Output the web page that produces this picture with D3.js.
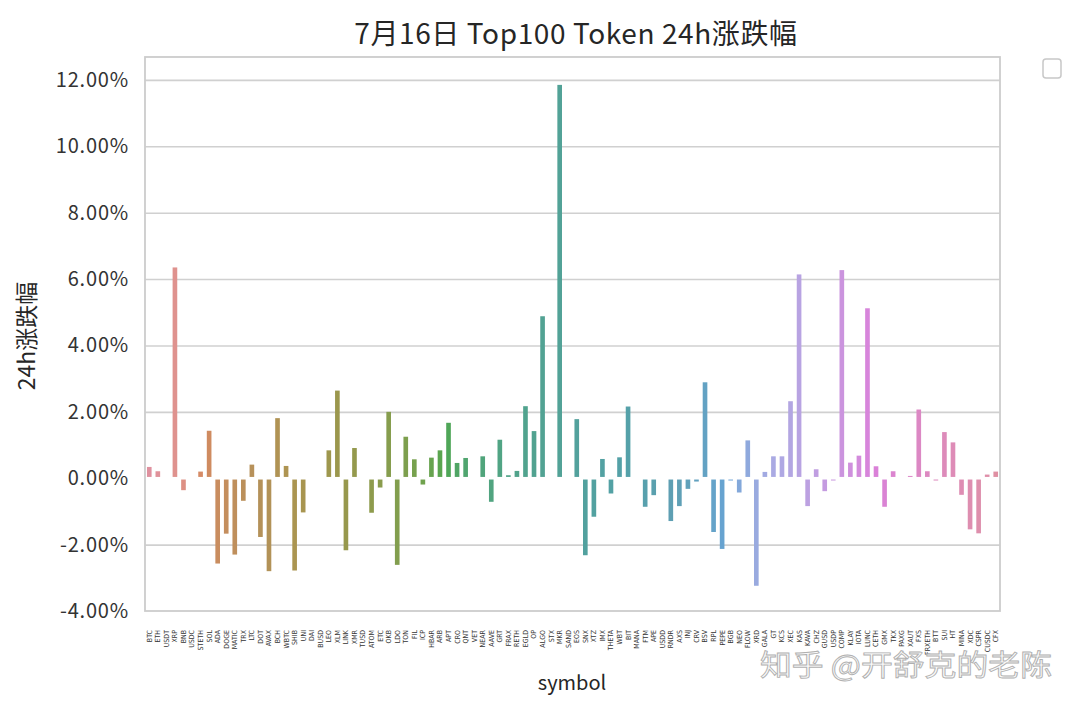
<!DOCTYPE html>
<html>
<head>
<meta charset="utf-8">
<script src="https://cdn.jsdelivr.net/npm/d3@7"></script>
<style>
  html, body { margin: 0; padding: 0; background: #ffffff; }
  svg { display: block; }
</style>
</head>
<body>
<svg id="chart" width="1080" height="710"></svg>
<script>
// ---------------- data ----------------
const symbols = [
  "BTC","ETH","USDT","XRP","BNB","USDC","STETH","SOL","ADA","DOGE",
  "MATIC","TRX","LTC","DOT","AVAX","BCH","WBTC","SHIB","UNI","DAI",
  "BUSD","LEO","XLM","LINK","XMR","TUSD","ATOM","ETC","OKB","LDO",
  "TON","FIL","ICP","HBAR","ARB","APT","CRO","QNT","VET","NEAR",
  "AAVE","GRT","FRAX","RETH","EGLD","OP","ALGO","STX","MKR","SAND",
  "EOS","SNX","XTZ","IMX","THETA","WBT","BIT","MANA","FTM","APE",
  "USDD","RNDR","AXS","INJ","CRV","BSV","RPL","PEPE","BGB","NEO",
  "FLOW","XRD","GALA","GT","KCS","XEC","KAS","KAVA","CHZ","GUSD",
  "USDP","COMP","KLAY","IOTA","LUNC","CETH","GMX","TKX","PAXG","XAUT",
  "FXS","FRXETH","BTT","SUI","HT","MINA","XDC","CSPR","CUSDC","CFX"
];
// 24h change in percent
const changes = [
   0.34,  0.21,  0.00,  6.35, -0.36,  0.00,  0.20,  1.43, -2.57, -1.67,
  -2.30, -0.68,  0.41, -1.77, -2.80,  1.81,  0.37, -2.78, -1.03,  0.00,
   0.00,  0.84,  2.64, -2.17,  0.91,  0.00, -1.04, -0.28,  2.00, -2.61,
   1.25,  0.57, -0.19,  0.62,  0.84,  1.67,  0.46,  0.61,  0.00,  0.66,
  -0.71,  1.16,  0.09,  0.22,  2.17,  1.42,  4.88,  0.00, 11.85,  0.00,
   1.78, -2.32, -1.16,  0.58, -0.46,  0.63,  2.16,  0.00, -0.86, -0.51,
   0.00, -1.29, -0.84, -0.32, -0.10,  2.89, -1.62, -2.13, -0.05, -0.43,
   1.14, -3.24,  0.19,  0.66,  0.66,  2.32,  6.14, -0.84,  0.27, -0.39,
  -0.05,  6.27,  0.47,  0.68,  5.12,  0.36, -0.86,  0.21,  0.00,  0.05,
   2.07,  0.21, -0.03,  1.39,  1.08, -0.50, -1.54, -1.66,  0.11,  0.20
];
const yTicks = [-4, -2, 0, 2, 4, 6, 8, 10, 12];
const titleText = "7月16日 Top100 Token 24h涨跌幅";
const xLabelText = "symbol";
const yLabelText = "24h涨跌幅";
const watermarkText = "知乎 @开舒克的老陈";

// ---------------- HUSL palette (seaborn husl_palette + desaturate) ----------------
const M = [[3.2406,-1.5372,-0.4986],[-0.9689,1.8758,0.0415],[0.0557,-0.2040,1.0570]];
const refU = 0.19784, refV = 0.46834, labE = 0.008856, labK = 903.3;
function maxChroma(L, H) {
  const hr = H * Math.PI / 180, sinH = Math.sin(hr), cosH = Math.cos(hr);
  const sub1 = Math.pow(L + 16, 3) / 1560896.0;
  const sub2 = sub1 > labE ? sub1 : L / labK;
  let result = Infinity;
  for (const [m1, m2, m3] of M) {
    const top = (0.99915 * m1 + 1.05122 * m2 + 1.14460 * m3) * sub2;
    const rb = 0.86330 * m3 - 0.17266 * m2;
    const lb = 0.12949 * m3 - 0.38848 * m1;
    const bottom = (rb * sinH + lb * cosH) * sub2;
    for (const t of [0, 1]) {
      const C = L * (top - 1.05122 * t) / (bottom + 0.17266 * sinH * t);
      if (C > 0 && C < result) result = C;
    }
  }
  return result;
}
function fInv(t) { return Math.pow(t, 3) > labE ? Math.pow(t, 3) : (116 * t - 16) / labK; }
function fromLinear(c) { return c <= 0.0031308 ? 12.92 * c : 1.055 * Math.pow(c, 1 / 2.4) - 0.055; }
function huslToRgb(h, s, l) {
  const C = maxChroma(l, h) / 100 * s;
  const hr = h * Math.PI / 180;
  const U = Math.cos(hr) * C, V = Math.sin(hr) * C;
  const varY = fInv((l + 16) / 116);
  const varU = U / (13 * l) + refU;
  const varV = V / (13 * l) + refV;
  const Y = varY;
  const X = 0 - (9 * Y * varU) / ((varU - 4) * varV - varU * varV);
  const Z = (9 * Y - 15 * varV * Y - varV * X) / (3 * varV);
  return M.map(r => Math.min(1, Math.max(0, fromLinear(r[0] * X + r[1] * Y + r[2] * Z))));
}
function huslPalette(n) {
  const out = [];
  for (let i = 0; i < n; i++) {
    const h = ((i / n) + 0.01) % 1 * 359;
    const [r, g, b] = huslToRgb(h, 0.9 * 99, 0.65 * 99);
    const c = d3.hsl(d3.rgb(r * 255, g * 255, b * 255));
    c.s *= 0.62;
    c.l = c.l + (1 - c.l) * 0.06;
    out.push(c.formatHex());
  }
  return out;
}
const palette = huslPalette(symbols.length);

// ---------------- layout ----------------
const svg = d3.select("#chart");
const plot = { left: 145, right: 1000, top: 57, bottom: 611 };

svg.append("rect").attr("width", 1080).attr("height", 710).attr("fill", "#ffffff");

const x = d3.scaleBand()
  .domain(symbols)
  .range([plot.left, plot.right])
  .paddingInner(0.2)
  .paddingOuter(0.1);

const y = d3.scaleLinear()
  .domain([-4, 12.69])
  .range([plot.bottom, plot.top]);

const color = d3.scaleOrdinal().domain(symbols).range(palette);

// grid lines + y tick labels through axis
const yAxis = d3.axisLeft(y)
  .tickValues(yTicks)
  .tickSize(-(plot.right - plot.left))
  .tickPadding(16)
  .tickFormat(d => d3.format(".2f")(d).replace("\u2212", "-") + "%");

const gy = svg.append("g")
  .attr("transform", `translate(${plot.left},0)`)
  .call(yAxis);
gy.select(".domain").remove();
gy.selectAll(".tick line")
  .attr("stroke", d => (d === 0 || d === -4) ? "none" : "#d0d0d0")
  .attr("stroke-width", 1.6);
gy.selectAll(".tick text")
  .attr("fill", "#333333")
  .attr("font-family", "'Noto Sans CJK SC', 'Noto Sans', sans-serif")
  .attr("font-size", 20)
  .attr("letter-spacing", 0.8);

// bars
const gap = 1.3;
const inset = 1.1;
const barData = symbols.map((s, i) => ({ s, v: changes[i] })).filter(d => d.v !== 0);
svg.append("g").selectAll("rect.bar")
  .data(barData)
  .join("rect")
  .attr("class", "bar")
  .attr("x", d => x(d.s) + inset)
  .attr("width", x.bandwidth() - 2 * inset)
  .attr("y", d => {
    if (d.v > 0) {
      const top = y(d.v), bot = y(0) - gap;
      return bot - top < 1 ? bot - 1 : top;
    }
    return y(0) + gap;
  })
  .attr("height", d => {
    if (d.v > 0) return Math.max(1, (y(0) - gap) - y(d.v));
    return Math.max(1, y(d.v) - (y(0) + gap));
  })
  .attr("fill", d => color(d.s));

// spines
svg.append("rect")
  .attr("x", plot.left).attr("y", plot.top)
  .attr("width", plot.right - plot.left).attr("height", plot.bottom - plot.top)
  .attr("fill", "none").attr("stroke", "#cccccc").attr("stroke-width", 1.8);

// x axis labels (rotated)
const xAxis = d3.axisBottom(x).tickSize(0).tickPadding(0);
const gx = svg.append("g")
  .attr("transform", `translate(0,${plot.bottom})`)
  .call(xAxis);
gx.select(".domain").remove();
gx.selectAll(".tick text")
  .attr("transform", "translate(0,19) rotate(-90)")
  .attr("x", 0).attr("y", 0).attr("dy", "0.35em")
  .attr("text-anchor", "end")
  .attr("fill", "#333333")
  .attr("font-family", "'Liberation Sans Narrow', 'DejaVu Sans Condensed', 'Liberation Sans', sans-serif")
  .attr("font-stretch", "condensed")
  .attr("font-size", 7);

// title
svg.append("text")
  .attr("x", 576).attr("y", 44)
  .attr("text-anchor", "middle")
  .attr("fill", "#262626")
  .attr("font-family", "'Noto Sans CJK SC', sans-serif")
  .attr("font-size", 28)
  .attr("letter-spacing", 0.6)
  .text(titleText);

// axis titles
svg.append("text")
  .attr("x", 572).attr("y", 690)
  .attr("text-anchor", "middle")
  .attr("fill", "#262626")
  .attr("font-family", "'Noto Sans CJK SC', sans-serif")
  .attr("font-size", 20)
  .text(xLabelText);

svg.append("text")
  .attr("transform", "translate(35,336) rotate(-90)")
  .attr("text-anchor", "middle")
  .attr("fill", "#262626")
  .attr("font-family", "'Noto Sans CJK SC', sans-serif")
  .attr("font-size", 23)
  .text(yLabelText);

// empty legend box
svg.append("rect")
  .attr("x", 1043).attr("y", 59)
  .attr("width", 18).attr("height", 19)
  .attr("rx", 3)
  .attr("fill", "#ffffff").attr("stroke", "#c8c8c8").attr("stroke-width", 1.5);

// watermark
svg.append("text")
  .attr("x", 760).attr("y", 676)
  .attr("textLength", 292).attr("lengthAdjust", "spacingAndGlyphs")
  .attr("fill", "#fafafa").attr("stroke", "#b0b0b0").attr("stroke-width", 0.9)
  .attr("font-family", "'Noto Sans CJK SC', sans-serif")
  .attr("font-size", 29)
  .text(watermarkText);
</script>
</body>
</html>
